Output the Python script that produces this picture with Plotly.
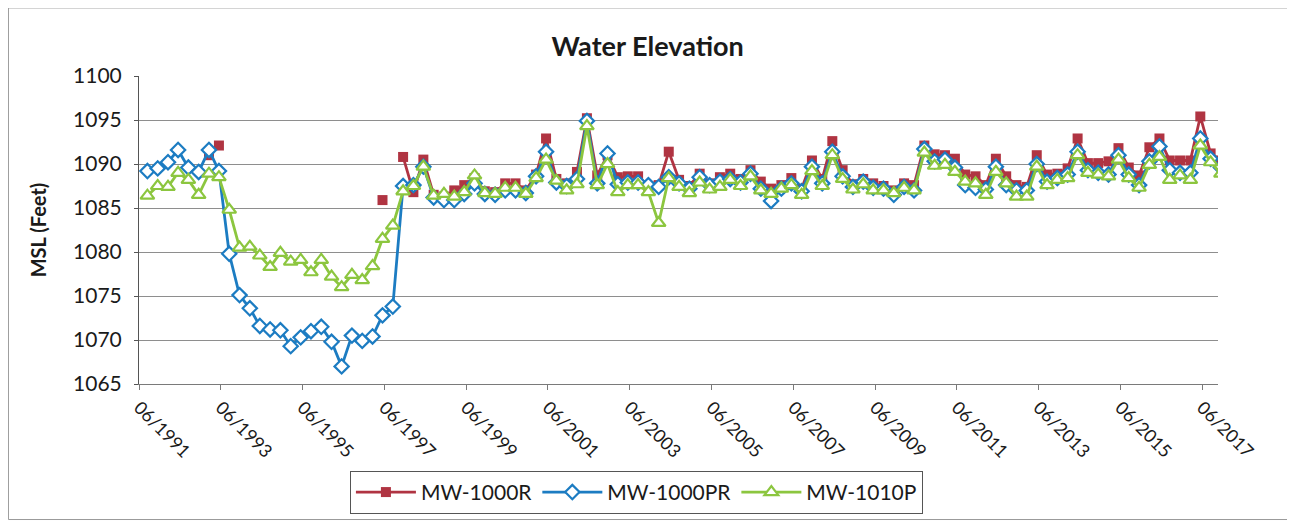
import pandas as pd
import plotly.graph_objects as go

RED = "#B03442"
BLUE = "#1C7CC2"
GREEN = "#8CC63F"
GRID = "#8E8E8E"
TEXT = "#1A1A1A"

# quarterly sampling, Jul 1991 .. Oct 2017
dates = pd.date_range("1991-07-15", periods=106, freq="3MS") + pd.Timedelta(days=14)

mw_1000r = [
    None, None, None, None, None, None, 1091.0, 1092.1,
    None, None, None, None, None, None, None, None,
    None, None, None, None, None, None, None, 1085.9,
    None, 1090.8, 1086.8, 1090.5, 1086.5, 1086.3, 1087.0, 1087.6,
    1088.4, 1086.9, 1086.8, 1087.8, 1087.8, 1087.0, 1088.8, 1092.9,
    1088.3, 1087.8, 1089.1, 1095.2, 1088.7, 1091.0, 1088.5, 1088.6,
    1088.6, 1087.5, 1087.6, 1091.4, 1088.2, 1087.5, 1088.9, 1087.8,
    1088.5, 1088.9, 1088.3, 1089.3, 1088.0, 1087.2, 1087.6, 1088.4,
    1087.2, 1090.4, 1088.3, 1092.6, 1089.3, 1087.7, 1088.3, 1087.8,
    1087.5, 1087.0, 1087.8, 1087.6, 1092.1, 1091.1, 1091.0, 1090.6,
    1088.8, 1088.6, 1087.6, 1090.6, 1088.6, 1087.6, 1087.4, 1091.0,
    1088.8, 1088.9, 1089.5, 1092.9, 1090.1, 1090.1, 1090.3, 1091.8,
    1089.6, 1088.7, 1091.9, 1092.9, 1090.4, 1090.4, 1090.4, 1095.4,
    1091.2, 1090.4,
]

mw_1000pr = [
    1089.2, 1089.5, 1090.2, 1091.6, 1089.6, 1089.1, 1091.6, 1089.2,
    1079.8, 1075.1, 1073.6, 1071.6, 1071.2, 1071.1, 1069.3, 1070.3,
    1071.0, 1071.5, 1069.8, 1067.0, 1070.5, 1069.9, 1070.4, 1072.8,
    1073.8, 1087.5, 1087.6, 1089.7, 1086.2, 1085.9, 1085.9, 1086.6,
    1087.8, 1086.6, 1086.5, 1087.0, 1087.0, 1086.7, 1088.6, 1091.4,
    1087.9, 1087.5, 1088.3, 1094.9, 1087.8, 1091.2, 1087.7, 1087.9,
    1087.9, 1087.6, 1087.4, 1088.5, 1087.8, 1087.2, 1088.5, 1087.6,
    1088.0, 1088.3, 1087.9, 1088.9, 1087.2, 1085.8, 1087.2, 1087.8,
    1086.9, 1089.7, 1087.8, 1091.4, 1088.6, 1087.4, 1088.0, 1087.3,
    1087.2, 1086.5, 1087.4, 1087.0, 1091.7, 1090.3, 1090.5, 1089.6,
    1087.6, 1087.3, 1087.1, 1089.7, 1087.6, 1087.0, 1087.0, 1090.0,
    1088.0, 1088.4, 1088.8, 1091.4, 1089.3, 1089.0, 1088.8, 1091.0,
    1088.8, 1087.6, 1090.3, 1092.0, 1089.3, 1089.0, 1089.0, 1092.9,
    1090.6, 1089.6,
]

mw_1010p = [
    1086.4, 1087.5, 1087.4, 1089.0, 1088.2, 1086.5, 1088.9, 1088.5,
    1084.8, 1080.5, 1080.6, 1079.6, 1078.3, 1079.9, 1078.9, 1079.1,
    1077.7, 1079.1, 1077.2, 1076.0, 1077.4, 1076.8, 1078.4, 1081.5,
    1083.0, 1086.9, 1087.5, 1089.7, 1086.4, 1086.6, 1086.3, 1086.8,
    1088.7, 1086.7, 1086.6, 1087.3, 1087.3, 1086.6, 1088.4, 1090.5,
    1088.1, 1087.0, 1087.7, 1094.3, 1087.6, 1090.0, 1086.8, 1087.6,
    1087.6, 1086.8, 1083.3, 1088.4, 1087.4, 1086.7, 1087.9, 1087.1,
    1087.4, 1088.2, 1087.5, 1088.6, 1087.0, 1086.6, 1087.2, 1087.6,
    1086.5, 1089.2, 1087.5, 1091.0, 1088.3, 1087.1, 1087.7, 1087.0,
    1087.0, 1086.7, 1087.3, 1087.0, 1091.3, 1089.8, 1089.9, 1089.1,
    1088.0, 1087.8, 1086.5, 1089.1, 1087.8, 1086.3, 1086.3, 1089.7,
    1087.6, 1088.2, 1088.4, 1091.0, 1089.0, 1088.8, 1088.6, 1090.5,
    1088.4, 1087.3, 1089.9, 1090.8, 1088.2, 1088.7, 1088.2, 1092.1,
    1090.2, 1088.9,
]

tick_dates = [f"{y}-06-01" for y in range(1991, 2018, 2)]
tick_labels = [f"06/{y}" for y in range(1991, 2018, 2)]

fig = go.Figure()
fig.add_trace(go.Scatter(
    x=dates, y=mw_1000r, name="MW-1000R", mode="lines+markers",
    line=dict(color=RED, width=2.8),
    marker=dict(symbol="square", size=10, color=RED),
))
fig.add_trace(go.Scatter(
    x=dates, y=mw_1000pr, name="MW-1000PR", mode="lines+markers",
    line=dict(color=BLUE, width=2.8),
    marker=dict(symbol="diamond", size=11, color="white", line=dict(color=BLUE, width=2.2)),
))
fig.add_trace(go.Scatter(
    x=dates, y=mw_1010p, name="MW-1010P", mode="lines+markers",
    line=dict(color=GREEN, width=2.8),
    marker=dict(symbol="triangle-up", size=12, color="white", line=dict(color=GREEN, width=2.2)),
))

# page body adds an 8px offset, so the figure is 8px smaller than the window
fig.update_layout(
    width=1287, height=517,
    plot_bgcolor="white", paper_bgcolor="white",
    font=dict(family="Lato, Open Sans, sans-serif", color=TEXT, size=17),
    margin=dict(l=131, r=77, t=68, b=141, autoexpand=False),
    title=dict(text="<b>Water Elevation</b>", x=0.497, xanchor="center",
               y=0.925, yanchor="middle", font=dict(size=27, color=TEXT)),
    showlegend=True,
    legend=dict(orientation="h", x=0.461, xanchor="center", y=-0.352, yanchor="middle",
                bordercolor="#555555", borderwidth=1, font=dict(size=21),
                itemwidth=60, tracegroupgap=0),
    xaxis=dict(
        type="date", range=["1991-06-01", "2017-10-20"], automargin=False,
        tickvals=tick_dates, ticktext=tick_labels, tickangle=45,
        showgrid=False, zeroline=False,
        showline=True, linecolor="#7A7A7A", linewidth=1,
        ticks="outside", ticklen=5, tickcolor="#7A7A7A",
        tickfont=dict(size=18),
    ),
    yaxis=dict(
        range=[1065, 1100], dtick=5, automargin=False,
        showgrid=True, gridcolor=GRID, gridwidth=1, zeroline=False,
        showline=True, linecolor="#555555", linewidth=1,
        ticks="outside", ticklen=4, tickcolor="#555555",
        ticklabelstandoff=8, tickfont=dict(size=21),
        title=dict(text="<b>MSL (Feet)</b>", font=dict(size=20), standoff=21),
    ),
    shapes=[dict(type="rect", xref="paper", yref="paper",
                 x0=-0.121, x1=1.065, y0=-0.44, y1=1.221,
                 line=dict(color="#9A9A9A", width=1))],
)

fig.write_html("out.html")
